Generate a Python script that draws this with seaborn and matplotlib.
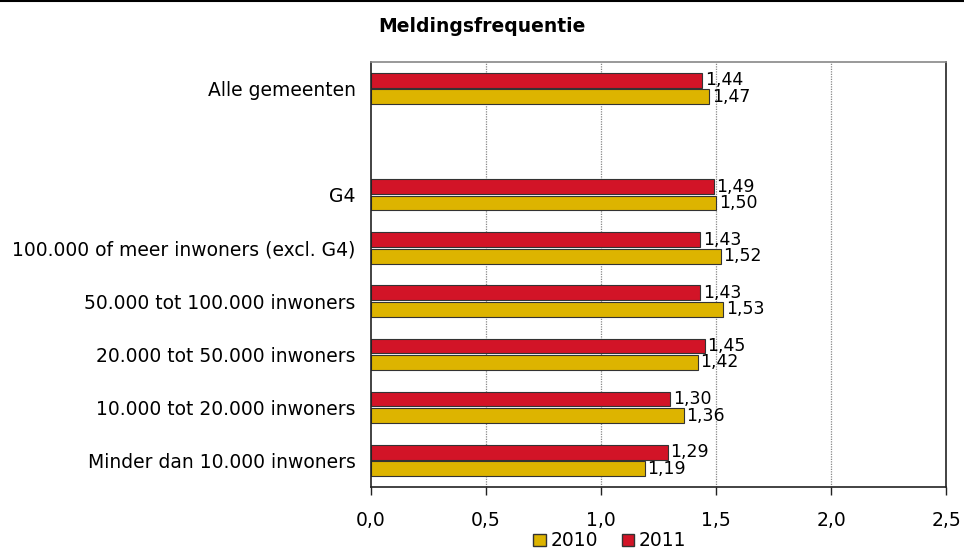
import pandas as pd
import numpy as np
import matplotlib
matplotlib.use("Agg")
import matplotlib.pyplot as plt
from matplotlib.patches import Patch
import seaborn as sns

# categorieën (lege rij als scheiding)
categories = ["Alle gemeenten", "G4", "100.000 of meer inwoners (excl. G4)",
              "50.000 tot 100.000 inwoners", "20.000 tot 50.000 inwoners",
              "10.000 tot 20.000 inwoners", "Minder dan 10.000 inwoners"]
order = ["Alle gemeenten", " ", "G4", "100.000 of meer inwoners (excl. G4)",
         "50.000 tot 100.000 inwoners", "20.000 tot 50.000 inwoners",
         "10.000 tot 20.000 inwoners", "Minder dan 10.000 inwoners"]
vals_2010 = [1.47, 1.50, 1.52, 1.53, 1.42, 1.36, 1.19]
vals_2011 = [1.44, 1.49, 1.43, 1.43, 1.45, 1.30, 1.29]
xticks = [0.0, 0.5, 1.0, 1.5, 2.0, 2.5]

df = pd.DataFrame({
    "categorie": categories * 2,
    "jaar": ["2010"] * len(categories) + ["2011"] * len(categories),
    "waarde": vals_2010 + vals_2011,
})

kleuren = {"2010": "#DDB400", "2011": "#D21427"}

sns.set_style("white")
plt.rcParams["font.family"] = ["DejaVu Sans"]
plt.rcParams["text.color"] = "black"
plt.rcParams["xtick.color"] = "black"
plt.rcParams["ytick.color"] = "black"

fig = plt.figure(figsize=(9.64, 5.49), dpi=100)
ax = fig.add_axes([371 / 964, 1 - 487 / 549, 575 / 964, 425 / 549])

sns.barplot(data=df, y="categorie", x="waarde", hue="jaar", order=order,
            hue_order=["2011", "2010"], palette=kleuren, orient="h", saturation=1,
            width=0.62, edgecolor="#333333", linewidth=0.8, legend=False, ax=ax)

# kleine ruimte tussen de staven
for p in ax.patches:
    h = p.get_height()
    p.set_y(p.get_y() + h * 0.05)
    p.set_height(h * 0.9)

# waardelabels
for cont in ax.containers:
    labels = [f"{v:.2f}".replace(".", ",") for v in cont.datavalues]
    ax.bar_label(cont, labels=labels, padding=2, fontsize=12.5)

ax.set_xlim(0, 2.5)
ax.set_xticks(xticks)
ax.set_xticklabels([f"{t:.1f}".replace(".", ",") for t in xticks], fontsize=13.5)
ax.tick_params(axis="y", labelsize=13.5, length=0, pad=11)
ax.tick_params(axis="x", length=6, width=1, color="#222222", direction="out", bottom=True, pad=11)
ax.set_xlabel("")
ax.set_ylabel("")

for x in xticks[1:-1]:
    ax.axvline(x, color="#888888", linestyle=(0, (1, 1)), linewidth=0.9, zorder=0)

for side in ["left", "bottom", "right"]:
    ax.spines[side].set_color("#222222")
    ax.spines[side].set_linewidth(1.2)
ax.spines["top"].set_color("#888888")
ax.spines["top"].set_linewidth(1.2)

fig.text(0.5, 1 - 27 / 549, "Meldingsfrequentie", ha="center", va="center",
         fontsize=13.5, fontweight="bold")
fig.add_artist(plt.Line2D([0, 1], [0.999, 0.999], color="black", linewidth=1.5))

handles = [Patch(facecolor=kleuren["2010"], edgecolor="#333333", label="2010"),
           Patch(facecolor=kleuren["2011"], edgecolor="#333333", label="2011")]
fig.legend(handles=handles, loc="center", bbox_to_anchor=(610 / 964, 1 - 541 / 549),
           ncol=2, frameon=False, fontsize=13.5, handlelength=0.65, handleheight=0.65,
           handletextpad=0.25, columnspacing=1.3, borderpad=0)

fig.savefig("out.png", dpi=100)
